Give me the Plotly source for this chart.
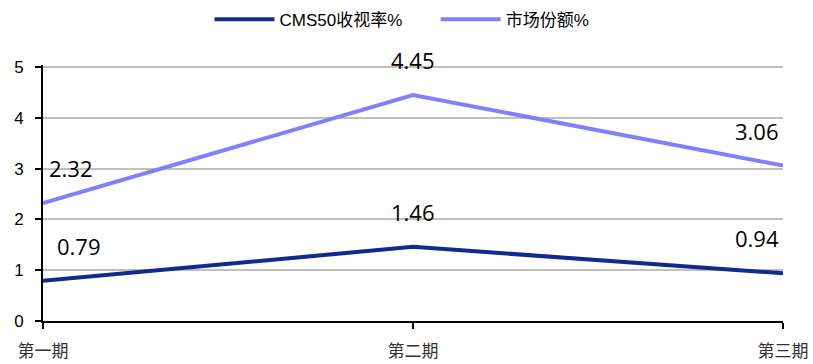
import plotly.graph_objects as go

categories = ["第一期", "第二期", "第三期"]
cms50 = [0.79, 1.46, 0.94]
share = [2.32, 4.45, 3.06]
series_names = ["CMS50收视率%", "市场份额%"]
label_text_cms = ["0.79", "1.46", "0.94"]
label_text_share = ["2.32", "4.45", "3.06"]

dark = "#102a8e"
light = "#8080ff"
NBSP = "\u00a0"

fig = go.Figure()
fig.add_trace(go.Scatter(x=categories, y=cms50, mode="lines", name=series_names[0] + NBSP * 6,
                         line=dict(color=dark, width=4)))
fig.add_trace(go.Scatter(x=categories, y=share, mode="lines", name=series_names[1],
                         line=dict(color=light, width=4)))

xshifts = [36, 0, -26]
label_font = dict(family="Open Sans, Noto Sans, sans-serif", size=22, color="#000000")
for i, c in enumerate(categories):
    fig.add_annotation(x=c, y=cms50[i], text=label_text_cms[i], showarrow=False,
                       xshift=xshifts[i], yshift=35, font=label_font)
    fig.add_annotation(x=c, y=share[i], text=label_text_share[i], showarrow=False,
                       xshift=xshifts[i] - (8 if i == 0 else 0), yshift=35, font=label_font)

fig.update_layout(
    width=813, height=364,
    margin=dict(l=43, r=30, t=65, b=43, autoexpand=False),
    paper_bgcolor="white", plot_bgcolor="white",
    showlegend=True,
    legend=dict(orientation="h", x=0.225, xanchor="left", y=0.995, yanchor="top",
                yref="container", font=dict(family="Liberation Sans, Noto Sans CJK SC, sans-serif",
                                            size=17, color="#000000"),
                itemwidth=60, tracegroupgap=0),
    xaxis=dict(type="category", range=[0, 2], showline=True, linecolor="#000000", linewidth=2,
               ticks="outside", ticklen=6, tickwidth=2, tickcolor="#000000", showgrid=False,
               ticklabelstandoff=8, automargin=False,
               tickfont=dict(family="Noto Sans CJK SC, sans-serif", size=17, color="#333333")),
    yaxis=dict(range=[0, 5.04], tickvals=[0, 1, 2, 3, 4, 5], showline=True, linecolor="#000000",
               linewidth=2, ticks="outside", ticklen=6, tickwidth=2, tickcolor="#000000",
               showgrid=True, gridcolor="#c0c0c0", gridwidth=2, zeroline=False,
               ticklabelstandoff=8, automargin=False,
               tickfont=dict(family="Liberation Sans, sans-serif", size=17, color="#000000")),
)
fig.write_html("out.html")
